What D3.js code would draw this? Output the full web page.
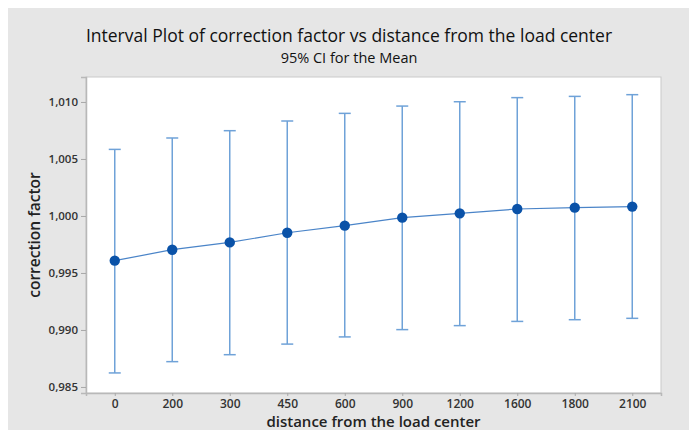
<!DOCTYPE html>
<html>
<head>
<meta charset="utf-8">
<script src="https://cdn.jsdelivr.net/npm/d3@7"></script>
<style>
  html, body { margin: 0; padding: 0; background: #fff; }
  svg { display: block; font-family: "Open Sans", "Noto Sans", sans-serif; }
</style>
</head>
<body>
<div id="chart"></div>
<script>
// distance categories (x) and the 95% CI
var distances = ['0', '200', '300', '450', '600', '900', '1200', '1600', '1800', '2100']
var means = [0.99608, 0.99704, 0.99768, 0.99853, 0.99915, 0.99985, 1.00023, 1.00061, 1.00073, 1.00082]
var upper = [1.00584, 1.00684, 1.00748, 1.00833, 1.00900, 1.00964, 1.01002, 1.01038, 1.01049, 1.01064]
var lower = [0.98623, 0.98722, 0.98783, 0.98876, 0.98939, 0.99003, 0.99038, 0.99075, 0.99090, 0.99102]
var yTicks = [0.985, 0.990, 0.995, 1.000, 1.005, 1.010]

var W = 689, H = 434
var plot = {left: 86, top: 77, right: 661, bottom: 393}

var rows = distances.map(function(d, i){
  return {d: d, mean: means[i], hi: upper[i], lo: lower[i]}
})

var svg = d3.select('#chart').append('svg').attr('width', W).attr('height', H)

// grey panel
svg.append('rect').attr('x', 8).attr('y', 8).attr('width', W - 8).attr('height', H - 12)
  .attr('fill', '#e6e6e6')

// plot area
svg.append('rect')
  .attr('x', plot.left).attr('y', plot.top)
  .attr('width', plot.right - plot.left).attr('height', plot.bottom - plot.top)
  .attr('fill', '#fff').attr('stroke', '#c9c9c9').attr('stroke-width', 1)

var x = d3.scalePoint().domain(distances).range([plot.left, plot.right]).padding(0.5)
var y = d3.scaleLinear().domain([0.98447, 1.01219]).range([plot.bottom, plot.top])

var comma = d3.formatLocale({decimal: ',', thousands: '.', grouping: [3], currency: ['', '']})
var fmt = comma.format('.3f')

// axes
var yAxis = svg.append('g').attr('transform', 'translate(' + plot.left + ',0)')
  .call(d3.axisLeft(y).tickValues(yTicks).tickFormat(fmt).tickSize(5).tickPadding(3))
var xAxis = svg.append('g').attr('transform', 'translate(0,' + plot.bottom + ')')
  .call(d3.axisBottom(x).tickSize(3).tickPadding(3))
svg.selectAll('.domain').attr('stroke', '#b8b8b8').attr('stroke-width', 1.5)
svg.selectAll('.tick line').attr('stroke', '#a8a8a8')
yAxis.selectAll('text').attr('font-size', 11.5).attr('fill', '#333').attr('font-weight', 600)
  .attr('font-family', '"Open Sans", sans-serif')
xAxis.selectAll('text').attr('font-size', 12).attr('fill', '#333').attr('font-weight', 600)
  .attr('font-family', '"Open Sans", sans-serif')

// error bars
var barColor = '#6fa2d8'
var capW = 6
var bars = svg.append('g')
rows.forEach(function(r){
  var cx = x(r.d)
  bars.append('line').attr('x1', cx).attr('x2', cx).attr('y1', y(r.hi)).attr('y2', y(r.lo))
    .attr('stroke', barColor).attr('stroke-width', 1.5)
  bars.append('line').attr('x1', cx - capW).attr('x2', cx + capW).attr('y1', y(r.hi)).attr('y2', y(r.hi))
    .attr('stroke', barColor).attr('stroke-width', 1.5)
  bars.append('line').attr('x1', cx - capW).attr('x2', cx + capW).attr('y1', y(r.lo)).attr('y2', y(r.lo))
    .attr('stroke', barColor).attr('stroke-width', 1.5)
})

// mean connecting line
var line = d3.line().x(function(r){ return x(r.d) }).y(function(r){ return y(r.mean) })
svg.append('path').attr('d', line(rows)).attr('fill', 'none')
  .attr('stroke', '#4a84c8').attr('stroke-width', 1.2)

svg.append('g').selectAll('circle').data(rows).join('circle')
  .attr('cx', function(r){ return x(r.d) }).attr('cy', function(r){ return y(r.mean) })
  .attr('r', 5.2).attr('fill', '#0a52a8')

// titles
svg.append('text').text('Interval Plot of correction factor vs distance from the load center')
  .attr('x', 349).attr('y', 42).attr('text-anchor', 'middle')
  .attr('font-size', 17.5).attr('fill', '#111')
svg.append('text').text('95% CI for the Mean')
  .attr('x', 349).attr('y', 63).attr('text-anchor', 'middle')
  .attr('font-size', 14.5).attr('font-weight', 500).attr('fill', '#111')
svg.append('text').text('distance from the load center')
  .attr('x', (plot.left + plot.right) / 2).attr('y', 427).attr('text-anchor', 'middle')
  .attr('font-size', 15).attr('font-weight', 600).attr('fill', '#222')
svg.append('text').text('correction factor')
  .attr('transform', 'translate(40,' + (plot.top + plot.bottom) / 2 + ') rotate(-90)')
  .attr('text-anchor', 'middle')
  .attr('font-size', 15.5).attr('font-weight', 600).attr('fill', '#222')
</script>
</body>
</html>
